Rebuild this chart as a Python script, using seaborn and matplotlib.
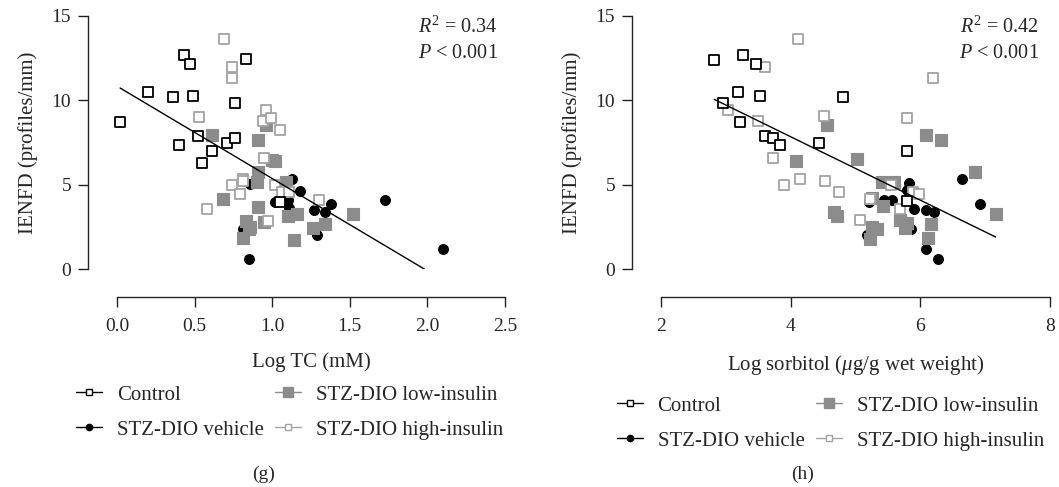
import matplotlib
matplotlib.use("Agg")
import matplotlib.pyplot as plt
from matplotlib.lines import Line2D
import seaborn as sns
import pandas as pd

# -------------------------------
# Data
# -------------------------------
# (g) Log TC (mM) vs IENFD
tc_control_x = [0.02, 0.20, 0.36, 0.43, 0.47, 0.49, 0.40, 0.52, 0.61, 0.55, 0.71, 0.76, 0.76, 0.83, 1.05]
tc_control_y = [8.73, 10.47, 10.18, 12.70, 12.13, 10.24, 7.33, 7.89, 7.02, 6.30, 7.49, 7.75, 9.86, 12.43, 3.97]
tc_vehicle_x = [0.86, 1.13, 1.18, 1.02, 1.10, 1.11, 1.27, 1.34, 1.38, 1.29, 0.81, 0.85, 1.73, 2.10]
tc_vehicle_y = [5.06, 5.34, 4.62, 3.99, 4.11, 3.60, 3.52, 3.36, 3.83, 2.02, 2.35, 0.61, 4.09, 1.17]
tc_low_x = [0.61, 0.96, 0.91, 0.91, 0.90, 1.00, 1.02, 1.09, 0.68, 0.91, 0.83, 0.86, 0.85, 0.81,
            0.95, 1.10, 1.16, 1.14, 1.26, 1.34, 1.52]
tc_low_y = [7.94, 8.54, 7.65, 5.77, 5.14, 6.48, 6.40, 5.18, 4.17, 3.68, 2.85, 2.51, 2.37, 1.84,
            2.77, 3.16, 3.28, 1.74, 2.45, 2.67, 3.28]
tc_high_x = [0.69, 0.74, 0.74, 0.53, 0.96, 0.94, 0.99, 1.05, 0.95, 0.81, 0.81, 0.74, 0.79, 0.58,
             0.97, 1.02, 1.06, 1.11, 1.30]
tc_high_y = [13.66, 11.98, 11.32, 9.03, 9.43, 8.79, 8.95, 8.26, 6.58, 5.36, 5.22, 4.98, 4.47, 3.58,
             2.87, 4.98, 4.55, 4.55, 4.11]
tc_fit_x = [0.02, 1.98]
tc_fit_y = [10.73, 0.0]

# (h) Log sorbitol vs IENFD
sb_control_x = [2.82, 2.95, 3.19, 3.26, 3.46, 3.52, 3.22, 3.60, 3.72, 3.84, 4.44, 4.80, 5.80, 5.79]
sb_control_y = [12.41, 9.86, 10.47, 12.71, 12.13, 10.24, 8.74, 7.91, 7.75, 7.35, 7.49, 10.18, 7.02, 4.03]
sb_vehicle_x = [5.82, 5.79, 5.21, 5.44, 5.56, 5.18, 5.90, 5.86, 6.09, 6.21, 6.08, 6.27, 6.64, 6.92]
sb_vehicle_y = [5.08, 4.66, 3.99, 4.11, 4.11, 2.02, 3.56, 2.35, 3.52, 3.36, 1.17, 0.61, 5.34, 3.83]
sb_low_x = [4.56, 4.08, 5.03, 5.41, 5.60, 5.25, 5.43, 4.67, 4.72, 5.25, 5.33, 5.22, 5.68, 5.79,
            5.77, 6.09, 6.32, 6.17, 6.12, 6.84, 7.16]
sb_low_y = [8.54, 6.40, 6.50, 5.18, 5.14, 4.19, 3.74, 3.36, 3.16, 2.47, 2.37, 1.76, 2.91, 2.75,
            2.41, 7.96, 7.67, 2.69, 1.84, 5.75, 3.26]
sb_high_x = [4.12, 3.60, 3.04, 3.50, 4.52, 3.73, 3.89, 4.14, 4.53, 4.75, 5.07, 5.54, 5.68, 5.80,
             5.89, 5.98, 6.20, 5.23]
sb_high_y = [13.66, 12.00, 9.45, 8.79, 9.05, 6.56, 4.98, 5.34, 5.24, 4.58, 2.89, 4.98, 3.56, 8.97,
             4.58, 4.47, 11.34, 4.13]
sb_fit_x = [2.82, 7.16]
sb_fit_y = [10.06, 1.90]

group_names = ["Control", "STZ-DIO vehicle", "STZ-DIO low-insulin", "STZ-DIO high-insulin"]

# -------------------------------
# Style
# -------------------------------
sns.set_style("ticks")
plt.rcParams["font.family"] = ["Liberation Serif", "DejaVu Serif"]
plt.rcParams["mathtext.fontset"] = "custom"
plt.rcParams["mathtext.rm"] = "Liberation Serif"
plt.rcParams["mathtext.it"] = "Liberation Serif:italic"

GRAY_FILL = "#8c8c8c"
GRAY_EDGE = "#a3a3a3"

# draw order: vehicle, low, high, control
styles = {
    "STZ-DIO vehicle": dict(marker="o", s=50, color="black", edgecolor="black", linewidth=0.8),
    "STZ-DIO low-insulin": dict(marker="s", s=64, color=GRAY_FILL, edgecolor=GRAY_FILL, linewidth=0.8),
    "STZ-DIO high-insulin": dict(marker="s", s=54, color="white", edgecolor=GRAY_EDGE, linewidth=1.3),
    "Control": dict(marker="s", s=54, color="white", edgecolor="black", linewidth=1.3),
}


def make_df(xs, ys):
    frames = []
    for name, x, y in zip(group_names, xs, ys):
        frames.append(pd.DataFrame({"x": x, "y": y, "group": name}))
    return pd.concat(frames, ignore_index=True)


def draw_panel(ax, df, fit_x, fit_y, xlim, xticks, xticklabels, xlabel, r2, txt_x,
               letter, letter_x, leg_anchor):
    for name in ["STZ-DIO vehicle", "STZ-DIO low-insulin", "STZ-DIO high-insulin", "Control"]:
        sub = df[df["group"] == name]
        sns.scatterplot(data=sub, x="x", y="y", ax=ax, legend=False, clip_on=False, **styles[name])
    sns.lineplot(x=fit_x, y=fit_y, ax=ax, color="black", linewidth=1.0)

    ax.set_xlim(*xlim)
    ax.set_ylim(0, 15)
    ax.set_xticks(xticks)
    ax.set_xticklabels(xticklabels)
    ax.set_yticks([0, 5, 10, 15])
    ax.set_xlabel(xlabel, fontsize=15, labelpad=13)
    ax.set_ylabel("IENFD (profiles/mm)", fontsize=15, labelpad=10)
    ax.tick_params(labelsize=14, length=7, width=1.0, color="#222222", pad=5)
    ax.tick_params(axis="x", pad=8)
    sns.despine(ax=ax)
    ax.spines["left"].set_position(("outward", 21))
    ax.spines["bottom"].set_position(("outward", 20))
    ax.spines["left"].set_linewidth(1.0)
    ax.spines["bottom"].set_linewidth(1.0)

    ax.text(txt_x, 0.955, r"$R^2$ = " + r2, transform=ax.transAxes, ha="right", va="center", fontsize=14.5)
    ax.text(txt_x, 0.852, r"$P$ < 0.001", transform=ax.transAxes, ha="right", va="center", fontsize=14.5)

    handles = [
        Line2D([], [], color="black", lw=1.0, marker="s", ms=4.5, mfc="white", mec="black", mew=1.0),
        Line2D([], [], color="black", lw=1.0, marker="o", ms=4.5, mfc="black", mec="black"),
        Line2D([], [], color=GRAY_FILL, lw=1.0, marker="s", ms=6.5, mfc=GRAY_FILL, mec=GRAY_FILL),
        Line2D([], [], color=GRAY_EDGE, lw=1.0, marker="s", ms=4.5, mfc="white", mec=GRAY_EDGE, mew=1.0),
    ]
    ax.legend(handles, group_names, ncol=2, frameon=False, fontsize=15,
              loc="upper left", bbox_to_anchor=leg_anchor, bbox_transform=ax.figure.transFigure,
              handlelength=1.25, handletextpad=0.7, columnspacing=0.55, labelspacing=0.75,
              borderaxespad=0, borderpad=0)
    ax.figure.text(letter_x, 1 - 474 / 487, letter, ha="center", va="center", fontsize=14)


fig = plt.figure(figsize=(10.59, 4.87), dpi=100)
ax1 = fig.add_axes([117 / 1059, 218 / 487, 388 / 1059, 253 / 487])
ax2 = fig.add_axes([661 / 1059, 218 / 487, 389 / 1059, 253 / 487])

df_tc = make_df([tc_control_x, tc_vehicle_x, tc_low_x, tc_high_x],
                [tc_control_y, tc_vehicle_y, tc_low_y, tc_high_y])
df_sb = make_df([sb_control_x, sb_vehicle_x, sb_low_x, sb_high_x],
                [sb_control_y, sb_vehicle_y, sb_low_y, sb_high_y])

draw_panel(ax1, df_tc, tc_fit_x, tc_fit_y, (0, 2.5), [0, 0.5, 1.0, 1.5, 2.0, 2.5],
           ["0.0", "0.5", "1.0", "1.5", "2.0", "2.5"], "Log TC (mM)", "0.34", 0.982,
           "(g)", 264 / 1059, (76 / 1059, 1 - 385 / 487))
draw_panel(ax2, df_sb, sb_fit_x, sb_fit_y, (2, 8), [2, 4, 6, 8],
           ["2", "4", "6", "8"], r"Log sorbitol ($\mu$g/g wet weight)", "0.42", 0.972,
           "(h)", 803 / 1059, (617 / 1059, 1 - 396 / 487))

fig.savefig("out.png", dpi=100)
